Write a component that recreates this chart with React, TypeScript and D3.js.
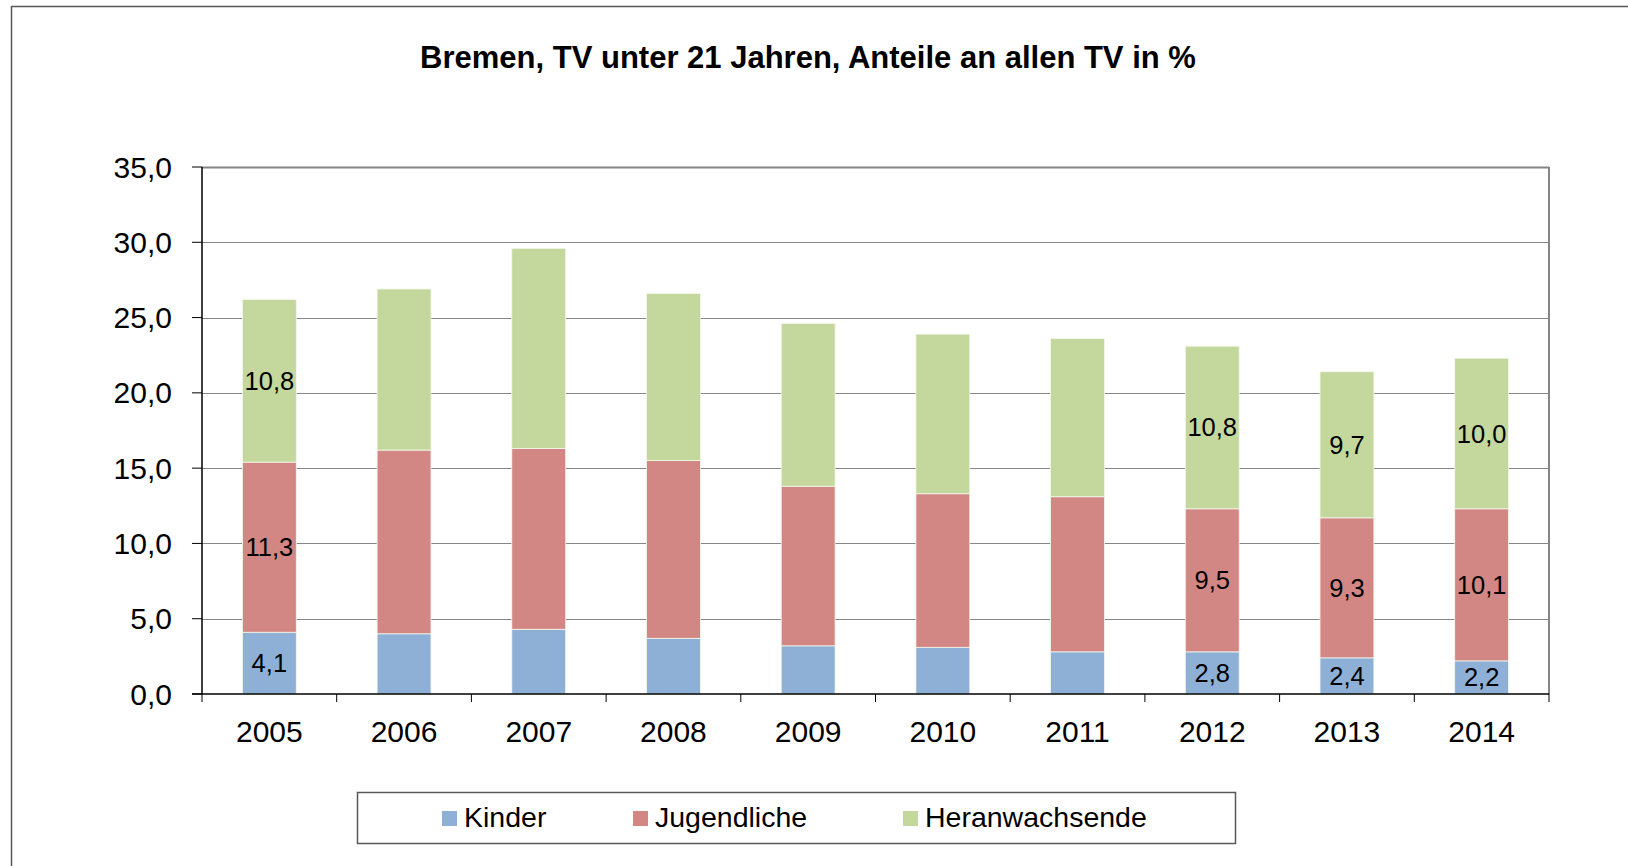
import React, { useEffect, useRef } from "react"
import * as d3 from "d3"

const years = ["2005", "2006", "2007", "2008", "2009", "2010", "2011", "2012", "2013", "2014"]
const kinder = [4.1, 4.0, 4.3, 3.7, 3.2, 3.1, 2.8, 2.8, 2.4, 2.2]
const jugendliche = [11.3, 12.2, 12.0, 11.8, 10.6, 10.2, 10.3, 9.5, 9.3, 10.1]
const heranwachsende = [10.8, 10.7, 13.3, 11.1, 10.8, 10.6, 10.5, 10.8, 9.7, 10.0]
const seriesNames = ["Kinder", "Jugendliche", "Heranwachsende"]
const seriesColors = ["#8fb0d6", "#d38784", "#c4d79c"]
const labelledYears = ["2005", "2012", "2013", "2014"]
const yTicks = [0, 5, 10, 15, 20, 25, 30, 35]

const FONT = "'Liberation Sans', Arial, sans-serif"

export default function App() {
    const ref = useRef<SVGSVGElement>(null)

    useEffect(() => {
        const svg = d3.select(ref.current)
        svg.selectAll("*").remove()

        const left = 202
        const right = 1549
        const top = 167
        const bottom = 694

        const rows = years.map((y, i) => ({
            year: y,
            Kinder: kinder[i],
            Jugendliche: jugendliche[i],
            Heranwachsende: heranwachsende[i]
        }))
        const stack = d3.stack<any>().keys(seriesNames)(rows)

        const x = d3.scaleBand().domain(years).range([left, right]).paddingInner(0.6).paddingOuter(0.3)
        const xb = d3.scaleBand().domain(years).range([left, right])
        const y = d3.scaleLinear().domain([0, 35]).range([bottom, top])

        // outer frame
        svg.append("rect")
            .attr("x", 11.5).attr("y", 6.5)
            .attr("width", 1640).attr("height", 900)
            .attr("fill", "none").attr("stroke", "#595959").attr("stroke-width", 1.5)

        svg.append("text")
            .attr("x", 808).attr("y", 67.5)
            .attr("text-anchor", "middle")
            .attr("font-family", FONT).attr("font-weight", "bold").attr("font-size", 31)
            .text("Bremen, TV unter 21 Jahren, Anteile an allen TV in %")

        // gridlines
        svg.append("g")
            .selectAll("line")
            .data(yTicks.filter(t => t > 0))
            .enter()
            .append("line")
            .attr("x1", left).attr("x2", right)
            .attr("y1", d => Math.round(y(d)) + 0.5).attr("y2", d => Math.round(y(d)) + 0.5)
            .attr("stroke", "#868686").attr("stroke-width", d => d === 35 ? 2 : 1)
        // right border of plot
        svg.append("line")
            .attr("x1", right).attr("x2", right).attr("y1", top).attr("y2", bottom)
            .attr("stroke", "#868686").attr("stroke-width", 2)

        // bars
        stack.forEach((layer, si) => {
            svg.append("g")
                .selectAll("rect")
                .data(layer)
                .enter()
                .append("rect")
                .attr("x", d => x(d.data.year) as number)
                .attr("width", x.bandwidth())
                .attr("y", d => y(d[1]))
                .attr("height", d => y(d[0]) - y(d[1]))
                .attr("fill", seriesColors[si])
                .attr("stroke", "#f4f8ec").attr("stroke-width", 0.8)
        })

        // data labels
        stack.forEach(layer => {
            svg.append("g")
                .selectAll("text")
                .data(layer.filter(d => labelledYears.includes(d.data.year)))
                .enter()
                .append("text")
                .attr("x", d => (x(d.data.year) as number) + x.bandwidth() / 2)
                .attr("y", d => y((d[0] + d[1]) / 2) + 9)
                .attr("text-anchor", "middle")
                .attr("font-family", FONT).attr("font-size", 25.5)
                .text(d => d3.format(".1f")(d[1] - d[0]).replace(".", ","))
        })

        // axes
        svg.append("line")
            .attr("x1", left).attr("x2", left).attr("y1", top).attr("y2", bottom)
            .attr("stroke", "#000").attr("stroke-width", 1.5)
        svg.append("line")
            .attr("x1", left - 10).attr("x2", right).attr("y1", bottom).attr("y2", bottom)
            .attr("stroke", "#000").attr("stroke-width", 1.5)

        svg.append("g")
            .selectAll("line")
            .data(yTicks)
            .enter()
            .append("line")
            .attr("x1", left - 10).attr("x2", left)
            .attr("y1", d => y(d)).attr("y2", d => y(d))
            .attr("stroke", "#000").attr("stroke-width", 1)
        svg.append("g")
            .selectAll("text")
            .data(yTicks)
            .enter()
            .append("text")
            .attr("x", 172).attr("y", d => y(d) + 10.5)
            .attr("text-anchor", "end")
            .attr("font-family", FONT).attr("font-size", 30)
            .text(d => d3.format(".1f")(d).replace(".", ","))

        svg.append("g")
            .selectAll("line")
            .data(years.concat(["end"]))
            .enter()
            .append("line")
            .attr("x1", (d, i) => i < years.length ? (xb(d) as number) : right)
            .attr("x2", (d, i) => i < years.length ? (xb(d) as number) : right)
            .attr("y1", bottom).attr("y2", bottom + 8)
            .attr("stroke", "#000").attr("stroke-width", 1)
        svg.append("g")
            .selectAll("text")
            .data(years)
            .enter()
            .append("text")
            .attr("x", d => (xb(d) as number) + xb.bandwidth() / 2)
            .attr("y", 742)
            .attr("text-anchor", "middle")
            .attr("font-family", FONT).attr("font-size", 30)
            .text(d => d)

        // legend
        svg.append("rect")
            .attr("x", 357.5).attr("y", 792.5)
            .attr("width", 878).attr("height", 51)
            .attr("fill", "#fff").attr("stroke", "#595959").attr("stroke-width", 1.5)
        const legendX = [442, 633, 903]
        const legend = svg.append("g")
            .selectAll("g")
            .data(seriesNames)
            .enter()
            .append("g")
            .attr("transform", (d, i) => `translate(${legendX[i]},811)`)
        legend.append("rect")
            .attr("width", 15).attr("height", 15)
            .attr("fill", (d, i) => seriesColors[i])
        legend.append("text")
            .attr("x", 22).attr("y", 16)
            .attr("font-family", FONT).attr("font-size", 28.5)
            .text(d => d)
    }, [])

    return (
        <svg
            ref={ref}
            width={1628}
            height={866}
            style={{ position: "absolute", left: 0, top: 0, background: "#fff" }}
        />
    )
}
